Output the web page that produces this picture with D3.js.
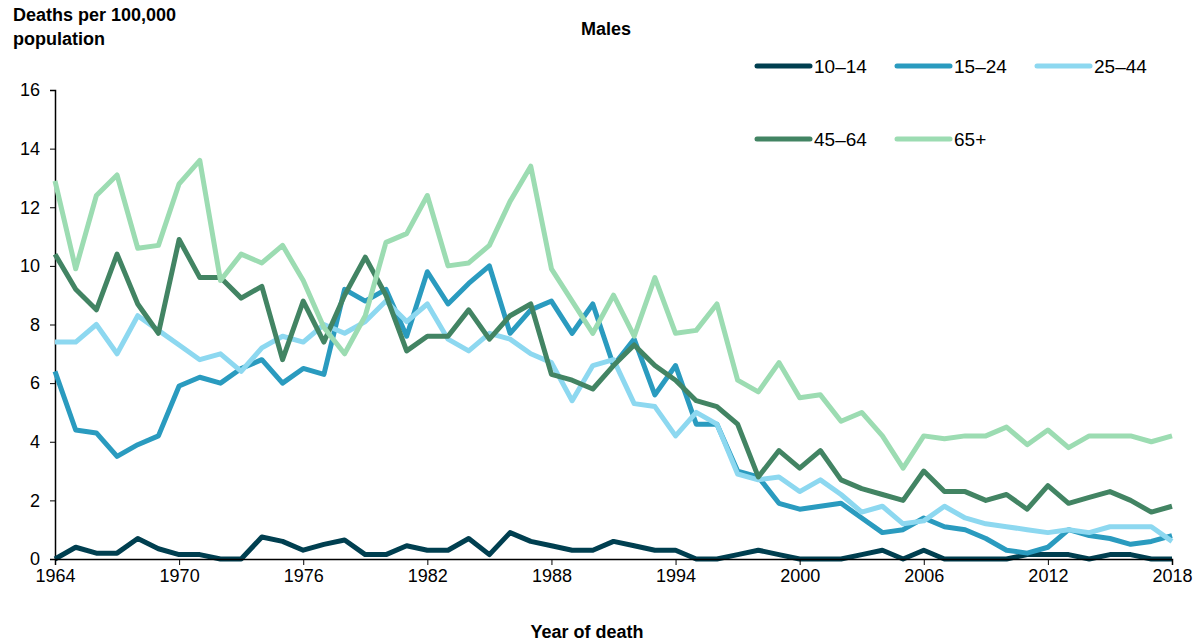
<!DOCTYPE html>
<html><head><meta charset="utf-8">
<script src="https://cdn.jsdelivr.net/npm/d3@7"></script>
<style>body{margin:0;background:#fff;font-family:Arial,"Liberation Sans",sans-serif}</style>
</head><body><div id="chart"></div>
<script>
const years = d3.range(1964, 2019)
const seriesNames = ['10–14', '15–24', '25–44', '45–64', '65+']
const colors = ['#003f50', '#2a9bbf', '#8dd8f0', '#428463', '#9cdcb2']
const age10_14 = [0,0.4,0.2,0.2,0.7,0.35,0.15,0.15,0,0,0.75,0.6,0.3,0.5,0.65,0.15,0.15,0.45,0.3,0.3,0.7,0.15,0.9,0.6,0.45,0.3,0.3,0.6,0.45,0.3,0.3,0,0,0.15,0.3,0.15,0,0,0,0.15,0.3,0,0.3,0,0,0,0,0.15,0.15,0.15,0,0.15,0.15,0,0]
const age15_24 = [6.4,4.4,4.3,3.5,3.9,4.2,5.9,6.2,6.0,6.5,6.8,6.0,6.5,6.3,9.2,8.8,9.2,7.6,9.8,8.7,9.4,10.0,7.7,8.5,8.8,7.7,8.7,6.6,7.5,5.6,6.6,4.6,4.6,3.0,2.8,1.9,1.7,1.8,1.9,1.4,0.9,1.0,1.4,1.1,1.0,0.7,0.3,0.2,0.4,1.0,0.8,0.7,0.5,0.6,0.8]
const age25_44 = [7.4,7.4,8.0,7.0,8.3,7.8,7.3,6.8,7.0,6.4,7.2,7.6,7.4,8.0,7.7,8.1,8.8,8.1,8.7,7.5,7.1,7.7,7.5,7.0,6.7,5.4,6.6,6.8,5.3,5.2,4.2,5.0,4.6,2.9,2.7,2.8,2.3,2.7,2.2,1.6,1.8,1.2,1.3,1.8,1.4,1.2,1.1,1.0,0.9,1.0,0.9,1.1,1.1,1.1,0.6]
const age45_64 = [10.4,9.2,8.5,10.4,8.7,7.7,10.9,9.6,9.6,8.9,9.3,6.8,8.8,7.4,9.0,10.3,9.0,7.1,7.6,7.6,8.5,7.5,8.3,8.7,6.3,6.1,5.8,6.6,7.3,6.6,6.1,5.4,5.2,4.6,2.8,3.7,3.1,3.7,2.7,2.4,2.2,2.0,3.0,2.3,2.3,2.0,2.2,1.7,2.5,1.9,2.1,2.3,2.0,1.6,1.8]
const age65plus = [12.9,9.9,12.4,13.1,10.6,10.7,12.8,13.6,9.5,10.4,10.1,10.7,9.5,7.9,7.0,8.3,10.8,11.1,12.4,10.0,10.1,10.7,12.2,13.4,9.9,8.8,7.7,9.0,7.6,9.6,7.7,7.8,8.7,6.1,5.7,6.7,5.5,5.6,4.7,5.0,4.2,3.1,4.2,4.1,4.2,4.2,4.5,3.9,4.4,3.8,4.2,4.2,4.2,4.0,4.2]
const xTicks = [1964, 1970, 1976, 1982, 1988, 1994, 2000, 2006, 2012, 2018]
const yTicks = [0, 2, 4, 6, 8, 10, 12, 14, 16]
const allSeries = [age10_14, age15_24, age25_44, age45_64, age65plus]

const W = 1197, H = 643
const font = 'Arial, Liberation Sans'
const svg = d3.select('#chart').append('svg').attr('width', W).attr('height', H)
	.attr('font-family', font)
const x = d3.scaleLinear().domain([1964, 2018]).range([55, 1172])
const y = d3.scaleLinear().domain([0, 16]).range([559, 90])

const yAxis = svg.append('g').attr('transform', 'translate(55,0)')
	.call(d3.axisLeft(y).tickValues(yTicks).tickSize(5).tickPadding(10))
yAxis.selectAll('text').attr('font-size', 18).attr('fill', '#000').attr('font-family', font)

const line = d3.line().x((d, i) => x(years[i])).y((d) => y(d))
allSeries.forEach((s, k) => {
	svg.append('path').datum(s).attr('d', line).attr('fill', 'none')
		.attr('stroke', colors[k]).attr('stroke-width', 5).attr('stroke-linejoin', 'round')
})

const xAxis = svg.append('g').attr('transform', 'translate(0,559)')
	.call(d3.axisBottom(x).tickValues(xTicks).tickFormat(d3.format('d')).tickSize(6).tickPadding(4))
xAxis.selectAll('text').attr('font-size', 18).attr('fill', '#000').attr('font-family', font)
svg.selectAll('.domain').attr('stroke', '#000').attr('stroke-width', 1.5)

svg.append('text').attr('x', 13).attr('y', 21).attr('font-weight', 'bold').attr('font-size', 18).text('Deaths per 100,000')
svg.append('text').attr('x', 13).attr('y', 45).attr('font-weight', 'bold').attr('font-size', 18).text('population')
svg.append('text').attr('x', 606).attr('y', 35).attr('text-anchor', 'middle').attr('font-weight', 'bold').attr('font-size', 18).text('Males')
svg.append('text').attr('x', 587).attr('y', 638).attr('text-anchor', 'middle').attr('font-weight', 'bold').attr('font-size', 18).text('Year of death')

const legendPos = [[757, 66], [897, 66], [1037, 66], [757, 139], [897, 139]]
seriesNames.forEach((n, k) => {
	const [lx, ly] = legendPos[k]
	svg.append('line').attr('x1', lx).attr('x2', lx + 53).attr('y1', ly).attr('y2', ly)
		.attr('stroke', colors[k]).attr('stroke-width', 5).attr('stroke-linecap', 'round')
	svg.append('text').attr('x', lx + 57).attr('y', ly + 7).attr('font-size', 19).text(n)
})
</script></body></html>
